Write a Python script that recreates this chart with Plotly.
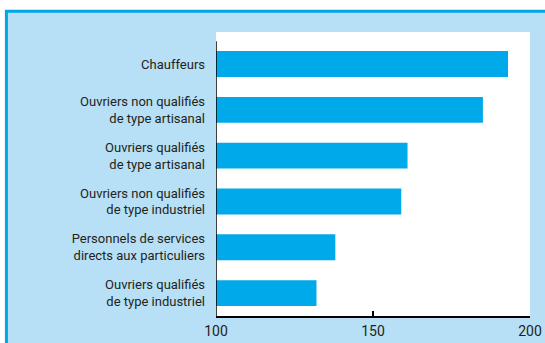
import plotly.graph_objects as go

# Occupational groups (top to bottom) and their index values
categories = [
    "Chauffeurs",
    "Ouvriers non qualifiés<br>de type artisanal",
    "Ouvriers qualifiés<br>de type artisanal",
    "Ouvriers non qualifiés<br>de type industriel",
    "Personnels de services<br>directs aux particuliers",
    "Ouvriers qualifiés<br>de type industriel",
]
values = [193, 185, 161, 159, 138, 132]
x_ticks = [100, 150, 200]

BAR = "#00a9e9"
PANEL = "#b7dff5"
BORDER = "#00a6e6"
TEXT = "#231f20"

fig = go.Figure(
    go.Bar(
        y=categories,
        x=values,
        orientation="h",
        marker=dict(color=BAR, line=dict(width=0)),
        hoverinfo="skip",
    )
)

W, H = 545, 343
L, R, T, B = 216, 15, 32, 27
pw, ph = W - L - R, H - T - B


def px_x(p):
    return (p - L) / pw


def px_y(p):
    return (H - B - p) / ph


fig.update_layout(
    width=W,
    height=H,
    margin=dict(l=L, r=R, t=T, b=B, autoexpand=False),
    paper_bgcolor="white",
    plot_bgcolor="rgba(0,0,0,0)",
    showlegend=False,
    bargap=0.435,
    font=dict(family="Roboto, Arial, sans-serif", size=13, color=TEXT),
    shapes=[
        # light blue panel with its blue frame
        dict(type="rect", xref="paper", yref="paper", layer="below",
             x0=px_x(6.4), x1=px_x(560), y0=px_y(11.3), y1=px_y(360),
             fillcolor=PANEL, line=dict(color=BORDER, width=3)),
        # white chart area
        dict(type="rect", xref="paper", yref="paper", layer="below",
             x0=0, x1=1, y0=0, y1=1,
             fillcolor="white", line=dict(width=0)),
        # category axis line
        dict(type="line", xref="x", yref="y", layer="above",
             x0=100, x1=100, y0=-0.5, y1=len(categories) - 0.5,
             line=dict(color="black", width=1.5)),
    ],
)

fig.update_xaxes(
    range=[100, 200],
    tickvals=x_ticks,
    ticktext=[str(v) for v in x_ticks],
    ticks="inside",
    ticklen=5,
    tickwidth=1.5,
    tickcolor="black",
    showline=True,
    linecolor="black",
    linewidth=1.5,
    showgrid=False,
    zeroline=False,
    automargin=False,
    tickfont=dict(size=14, color=TEXT),
    ticklabelstandoff=1,
    fixedrange=True,
)

fig.update_yaxes(
    categoryorder="array",
    categoryarray=categories,
    range=[len(categories) - 0.5, -0.7],
    showline=False,
    showgrid=False,
    zeroline=False,
    automargin=False,
    ticks="",
    ticklabelstandoff=10,
    tickfont=dict(size=13, color=TEXT),
    fixedrange=True,
)

fig.write_html("out.html", config=dict(displayModeBar=False))
